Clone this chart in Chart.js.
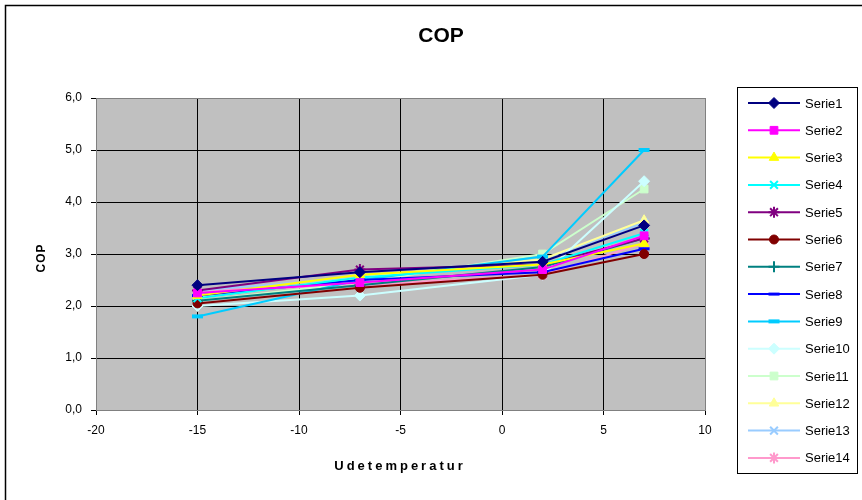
<!DOCTYPE html>
<html>
<head>
<meta charset="utf-8">
<script src="https://cdn.jsdelivr.net/npm/chart.js@4/dist/chart.umd.min.js"></script>
<style>
  body { margin: 0; background: #fff; }
  canvas { display: block; }
</style>
</head>
<body>
<canvas id="myChart" width="862" height="500"></canvas>
<script>
// outdoor temperatures (x) for every series
const temps = [-15, -7, 2, 7];

// COP values
const serie1 = [2.4, 2.65, 2.85, 3.55];
const serie2 = [2.25, 2.45, 2.7, 3.35];
const serie3 = [2.2, 2.6, 2.8, 3.2];
const serie4 = [2.15, 2.55, 2.8, 3.4];
const serie5 = [2.3, 2.7, 2.8, 3.3];
const serie6 = [2.05, 2.35, 2.6, 3.0];
const serie7 = [2.1, 2.4, 2.75, 3.3];
const serie8 = [2.2, 2.5, 2.65, 3.1];
const serie9 = [1.8, 2.5, 2.95, 5.0];
const serie10 = [2.0, 2.2, 2.6, 4.4];
const serie11 = [2.1, 2.45, 3.0, 4.25];
const serie12 = [2.15, 2.55, 2.9, 3.65];
const serie13 = [2.3, 2.55, 2.9, 3.6];
const serie14 = [2.3, 2.4, 2.6, 3.2];

const names = ['Serie1', 'Serie2', 'Serie3', 'Serie4', 'Serie5', 'Serie6', 'Serie7',
  'Serie8', 'Serie9', 'Serie10', 'Serie11', 'Serie12', 'Serie13', 'Serie14'];
const values = [serie1, serie2, serie3, serie4, serie5, serie6, serie7,
  serie8, serie9, serie10, serie11, serie12, serie13, serie14];

// Excel default line colours and markers
const colors = ['#000080', '#FF00FF', '#FFFF00', '#00FFFF', '#800080', '#800000', '#008080',
  '#0000FF', '#00CCFF', '#CCFFFF', '#CCFFCC', '#FFFF99', '#99CCFF', '#FF99CC'];
const markers = ['rectRot', 'rect', 'triangle', 'crossRot', 'star', 'circle', 'cross',
  'line', 'line', 'rectRot', 'rect', 'triangle', 'crossRot', 'star'];

const FONT = 'Liberation Sans, Arial, sans-serif';

function markerRadius(m) {
  if (m === 'circle') return 4.5;
  if (m === 'rect') return 5.5;
  return 5.5;
}
function markerBorder(m, i) {
  if (m === 'line') return i === 8 ? 4 : 3;
  if (m === 'crossRot' || m === 'cross' || m === 'star') return 2;
  return 1;
}

const datasets = names.map((name, i) => ({
  label: name,
  data: temps.map((t, j) => ({ x: t, y: values[i][j] })),
  showLine: true,
  borderColor: colors[i],
  backgroundColor: colors[i],
  borderWidth: 2,
  pointStyle: markers[i],
  pointRadius: markerRadius(markers[i]),
  pointBorderWidth: markerBorder(markers[i], i),
  pointBackgroundColor: colors[i],
  pointBorderColor: colors[i]
}));

// draws the frame, titles and the Excel style legend box
const decorations = {
  id: 'decorations',
  beforeDraw(chart) {
    const c = chart.ctx;
    const a = chart.chartArea;
    c.save();
    c.fillStyle = '#C0C0C0';
    c.fillRect(a.left, a.top, a.right - a.left, a.bottom - a.top);
    c.restore();
  },
  afterDraw(chart) {
    const c = chart.ctx;
    const a = chart.chartArea;
    c.save();
    // outer border
    c.strokeStyle = '#000';
    c.lineWidth = 1.5;
    c.strokeRect(5.5, 5.5, 860, 500);
    // plot border
    c.lineWidth = 1;
    c.strokeStyle = '#808080';
    c.strokeRect(a.left + 0.5, a.top + 0.5, a.right - a.left, a.bottom - a.top);
    // titles
    c.fillStyle = '#000';
    c.textAlign = 'center';
    c.textBaseline = 'middle';
    c.font = 'bold 21px ' + FONT;
    c.fillText('COP', 441, 36);
    c.font = 'bold 13px ' + FONT;
    c.letterSpacing = '3px';
    c.fillText('Udetemperatur', 400, 466);
    c.save();
    c.translate(42, 258);
    c.rotate(-Math.PI / 2);
    c.letterSpacing = '1px';
    c.font = 'bold 12px ' + FONT;
    c.fillText('COP', 0, 0);
    c.restore();
    c.letterSpacing = '0px';
    // legend
    c.strokeStyle = '#000';
    c.lineWidth = 1;
    c.strokeRect(737.5, 87.5, 120, 386);
    c.font = '13px ' + FONT;
    c.textAlign = 'left';
    chart.data.datasets.forEach((ds, i) => {
      const y = 103 + i * 27.3;
      c.strokeStyle = ds.borderColor;
      c.lineWidth = 2;
      c.beginPath();
      c.moveTo(748, y);
      c.lineTo(800, y);
      c.stroke();
      c.fillStyle = ds.backgroundColor;
      c.strokeStyle = ds.borderColor;
      c.lineWidth = ds.pointBorderWidth;
      Chart.helpers.drawPoint(c, { pointStyle: ds.pointStyle, radius: ds.pointRadius, rotation: 0, borderWidth: ds.pointBorderWidth }, 774, y);
      c.fillStyle = '#000';
      c.fillText(ds.label, 805, y + 1);
    });
    c.restore();
  }
};

const ctx = document.getElementById('myChart').getContext('2d');
new Chart(ctx, {
  type: 'scatter',
  data: { datasets: datasets },
  options: {
    responsive: false,
    animation: false,
    layout: { padding: { left: 10, top: 98, right: 157, bottom: 18 } },
    plugins: { legend: { display: false }, title: { display: false }, tooltip: { enabled: false } },
    scales: {
      x: {
        min: -20, max: 10,
        afterFit(scale) { scale.height = 72; },
        ticks: { stepSize: 5, padding: 8, color: '#000', font: { family: FONT, size: 12 } },
        grid: { color: '#000', tickLength: 5, tickColor: '#000' },
        border: { color: '#000' }
      },
      y: {
        min: 0, max: 6,
        afterFit(scale) { scale.width = 86; },
        ticks: { stepSize: 1, padding: 9, color: '#000', font: { family: FONT, size: 12 },
          callback: v => v.toFixed(1).replace('.', ',') },
        grid: { color: '#000', tickLength: 5, tickColor: '#000' },
        border: { color: '#000' }
      }
    }
  },
  plugins: [decorations]
});
</script>
</body>
</html>
